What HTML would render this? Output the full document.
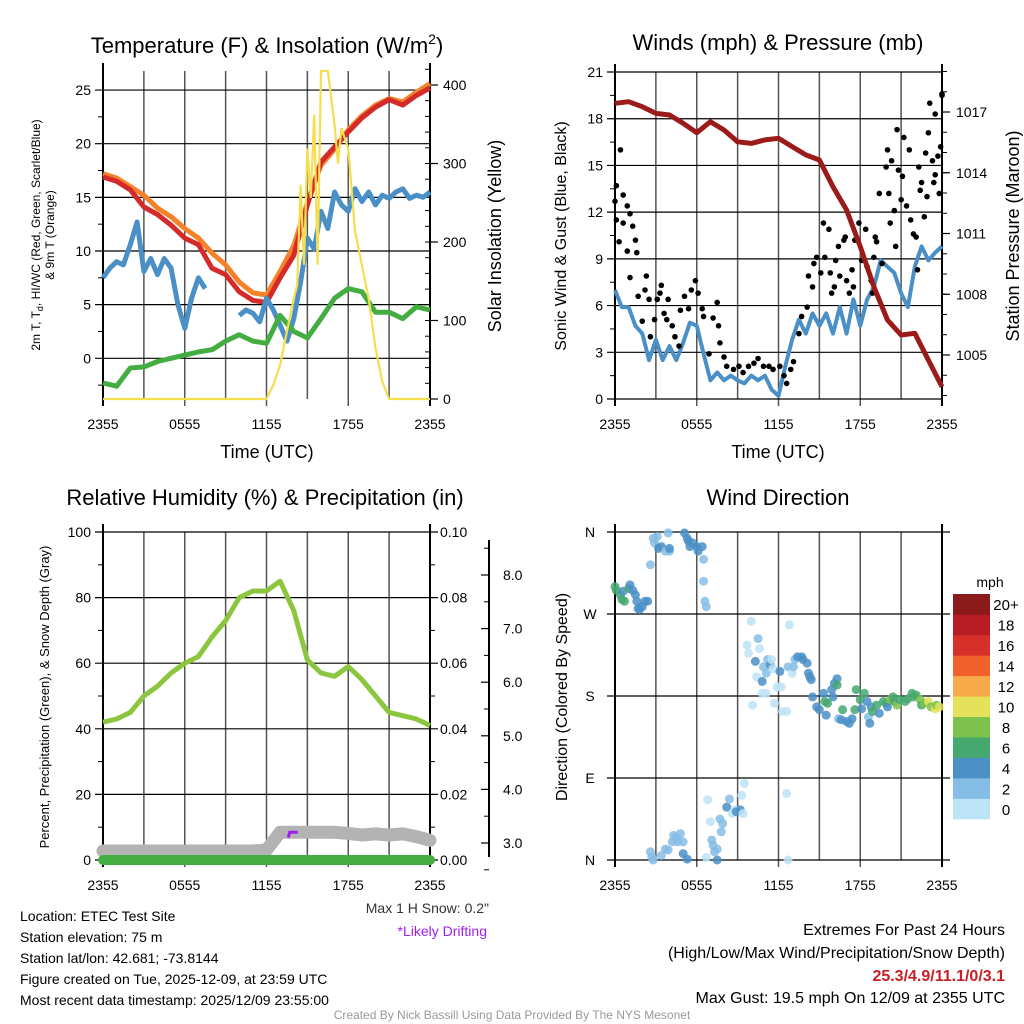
<!DOCTYPE html>
<html><head><meta charset="utf-8"><style>
html,body{margin:0;padding:0;background:#fff}
svg{display:block;font-family:"Liberation Sans",Arial,sans-serif}
</style></head><body>
<svg id="root" width="1024" height="1024" viewBox="0 0 1024 1024" xmlns="http://www.w3.org/2000/svg">
<rect width="1024" height="1024" fill="#fff"/>
<g id="static">
<text x="267" y="53" font-size="22" text-anchor="middle">Temperature (F) &amp; Insolation (W/m<tspan font-size="14" dy="-9">2</tspan><tspan dy="9">)</tspan></text>
<text x="778" y="50" font-size="22" text-anchor="middle">Winds (mph) &amp; Pressure (mb)</text>
<text x="265" y="505" font-size="22" text-anchor="middle">Relative Humidity (%) &amp; Precipitation (in)</text>
<text x="778" y="505" font-size="22" text-anchor="middle">Wind Direction</text>
<text x="267" y="458" font-size="18" text-anchor="middle">Time (UTC)</text>
<text x="778" y="458" font-size="18" text-anchor="middle">Time (UTC)</text>
<text transform="translate(40,235) rotate(-90)" font-size="12" text-anchor="middle">2m T, T<tspan font-size="9" dy="3">d</tspan><tspan dy="-3">, HI/WC (Red, Green, Scarlet/Blue)</tspan></text>
<text transform="translate(54,235) rotate(-90)" font-size="12" text-anchor="middle">&amp; 9m T (Orange)</text>
<text transform="translate(501,236) rotate(-90)" font-size="18" text-anchor="middle">Solar Insolation (Yellow)</text>
<text transform="translate(566,236) rotate(-90)" font-size="16" text-anchor="middle">Sonic Wind &amp; Gust (Blue, Black)</text>
<text transform="translate(1019,236) rotate(-90)" font-size="18" text-anchor="middle">Station Pressure (Maroon)</text>
<text transform="translate(49,697) rotate(-90)" font-size="13" text-anchor="middle">Percent, Precipitation (Green), &amp; Snow Depth (Gray)</text>
<text transform="translate(567,697) rotate(-90)" font-size="16" text-anchor="middle">Direction (Colored By Speed)</text>
<text x="489" y="913" font-size="14" text-anchor="end" fill="#333">Max 1 H Snow: 0.2"</text>
<text x="487" y="936" font-size="14" text-anchor="end" fill="#a020f0">*Likely Drifting</text>
<g font-size="14">
<text x="20" y="921">Location: ETEC Test Site</text>
<text x="20" y="942">Station elevation: 75 m</text>
<text x="20" y="963">Station lat/lon: 42.681; -73.8144</text>
<text x="20" y="984">Figure created on Tue, 2025-12-09, at 23:59 UTC</text>
<text x="20" y="1005">Most recent data timestamp: 2025/12/09 23:55:00</text>
</g>
<g font-size="16" text-anchor="end">
<text x="1005" y="935">Extremes For Past 24 Hours</text>
<text x="1005" y="958">(High/Low/Max Wind/Precipitation/Snow Depth)</text>
<text x="1005" y="981" fill="#c81e24" font-weight="bold">25.3/4.9/11.1/0/3.1</text>
<text x="1005" y="1003">Max Gust: 19.5 mph On 12/09 at 2355 UTC</text>
</g>
<text x="512" y="1019" font-size="12" text-anchor="middle" fill="#999">Created By Nick Bassill Using Data Provided By The NYS Mesonet</text>
<text x="990" y="587" font-size="14" text-anchor="middle">mph</text>
</g>
</svg>
<script>
// ---------- data ----------
const xTickHours = [0, 6, 12, 18, 24];
const xTickLabels = ["2355", "0555", "1155", "1755", "2355"];
const hourly = [0,1,2,3,4,5,6,7,8,9,10,11,12,13,14,15,16,17,18,19,20,21,22,23,24];
const halfHourly = [0,0.5,1,1.5,2,2.5,3,3.5,4,4.5,5,5.5,6,6.5,7,7.5,8,8.5,9,9.5,10,10.5,11,11.5,12,12.5,13,13.5,14,14.5,15,15.5,16,16.5,17,17.5,18,18.5,19,19.5,20,20.5,21,21.5,22,22.5,23,23.5,24];
// panel 1
const tempRed = [16.9,16.5,15.7,14.1,13.4,12.4,11.2,10.6,8.4,7.8,6.2,5.4,5.2,7.5,9.6,14.3,18.3,19.7,21.1,22.4,23.4,24.1,23.6,24.5,25.2];
const temp9mOrange = [17.2,16.8,16.0,15.2,14.0,13.2,12.1,11.2,9.8,8.7,7.1,6.1,5.9,8.1,10.5,14.5,18.0,19.5,21.3,22.6,23.6,24.2,23.9,24.8,25.6];
const dewGreen = [-2.3,-2.6,-0.9,-0.8,-0.3,0,0.3,0.6,0.8,1.6,2.2,1.6,1.4,4.0,2.5,1.9,3.7,5.6,6.5,6.2,4.3,4.3,3.7,4.8,4.5];
const windChillBlue = [7.5,8.4,9.0,8.7,10.6,12.7,8.1,9.3,7.8,9.3,8.4,5.0,2.8,5.6,7.5,6.5,null,null,5.9,null,4.0,4.5,4.2,3.4,5.6,4.5,3.1,1.6,3.7,7.1,11.2,10.2,13.7,12.1,15.5,14.3,13.7,15.8,14.6,15.5,14.3,15.2,14.9,15.5,15.8,14.9,15.2,15.0,15.5];
const solarHours = [0,12,12.5,13,13.5,14,14.25,14.5,14.75,15,15.25,15.5,15.75,16,16.5,17,17.25,17.5,18,18.5,19,19.5,20,20.5,21,24];
const solarValues = [0,0,18,43,86,128,145,273,171,319,256,362,171,420,420,349,300,345,319,213,171,128,65,22,0,0];
const tempTicks = [0,5,10,15,20,25];
const solarTicks = [0,100,200,300,400];
// panel 2
const windSonic = [7.0,5.9,5.9,4.7,4.2,2.5,3.8,2.5,3.4,2.5,3.6,4.9,4.7,2.9,1.2,1.7,1.2,1.5,1.2,1.0,1.5,1.2,1.5,0.6,0.2,2.1,3.8,5.1,4.2,5.5,4.7,5.5,4.2,5.9,4.2,6.4,4.7,6.4,7.2,8.9,8.5,8.1,6.8,5.9,8.5,9.8,8.9,9.4,9.8];
const pressure = [1017.43,1017.51,1017.26,1016.93,1016.85,1016.44,1015.98,1016.52,1016.11,1015.53,1015.45,1015.62,1015.70,1015.29,1014.88,1014.63,1013.31,1012.16,1010.35,1008.37,1006.73,1005.99,1006.07,1004.75,1003.43];
const gustHours = [0.0,0.1,0.4,0.1,0.3,0.6,0.9,1.1,0.6,1.3,0.9,1.5,1.6,1.1,1.7,2.2,2.3,2.0,2.5,2.6,2.9,3.1,3.3,3.4,3.6,3.8,3.9,4.2,4.4,4.7,4.8,5.1,5.4,5.6,5.9,6.1,6.4,6.5,6.9,7.2,7.5,7.6,7.7,8.0,8.2,8.7,9.1,9.4,9.8,10.2,10.5,10.9,11.3,11.6,12.1,12.4,12.6,12.9,13.1,13.5,13.7,14.1,14.2,14.5,14.6,14.8,15.1,15.3,15.4,15.7,15.8,15.9,16.1,16.2,16.4,16.5,16.8,16.9,17.0,17.2,17.4,17.5,17.6,17.9,18.1,18.4,18.5,18.8,18.9,19.0,19.1,19.2,19.4,19.6,19.9,20.0,20.1,20.2,20.3,20.5,20.6,20.7,20.8,21.0,21.1,21.2,21.4,21.6,21.7,21.9,22.1,22.2,22.3,22.4,22.5,22.7,22.8,22.9,23.0,23.1,23.3,23.4,23.5,23.5,23.7,23.8,23.9,24.0,24.0];
const gustValues = [12.7,13.7,16.0,11.5,10.1,13.1,12.4,11.9,11.3,11.1,9.5,10.2,9.4,7.8,6.6,7.0,7.9,5.0,6.4,4.0,5.1,6.4,6.8,7.3,5.5,5.1,6.4,4.7,4.0,3.4,5.7,6.6,5.8,7.0,7.6,6.8,5.8,5.3,2.9,5.2,6.2,4.7,3.6,2.7,2.1,1.9,2.1,1.7,2.1,2.3,2.6,2.1,2.1,1.9,2.1,1.5,1.0,1.9,2.4,4.2,5.3,5.9,7.9,7.2,8.7,9.1,8.1,11.3,9.1,10.9,8.1,6.8,7.2,8.9,9.8,7.9,10.2,10.4,7.6,6.8,8.3,7.2,10.2,11.3,8.9,10.9,8.5,7.6,6.8,9.1,10.4,10.1,13.2,8.7,14.9,16.0,13.2,11.3,15.3,12.1,9.8,17.3,14.7,12.8,14.3,16.8,12.4,16.0,11.5,10.6,10.4,8.3,14.9,13.4,13.9,11.7,15.8,13.0,17.1,19.0,15.3,13.9,18.3,14.4,15.6,13.2,16.2,19.5,19.6];
const windTicks = [0,3,6,9,12,15,18,21];
const pressureTicks = [1005,1008,1011,1014,1017];
// panel 3
const humidity = [42,43,45,50,53,57,60,62,68,73,80,82,82,85,76,61,57,56,59,55,50,45,44,43,41];
const precip = [0,0,0,0,0,0,0,0,0,0,0,0,0,0,0,0,0,0,0,0,0,0,0,0,0];
const snowDepth = [2.85,2.85,2.85,2.85,2.85,2.85,2.85,2.85,2.85,2.85,2.85,2.85,2.87,3.2,3.2,3.2,3.2,3.2,3.18,3.15,3.17,3.15,3.17,3.12,3.05,3.03];
const driftHours = [13.6,13.7,14.3];
const driftValues = [3.1,3.2,3.2];
const rhTicks = [0,20,40,60,80,100];
const precipTicks = ["0.00","0.02","0.04","0.06","0.08","0.10"];
const snowTicks = ["3.0","4.0","5.0","6.0","7.0","8.0"];
// panel 4
const dirHours = [0.0,0.1,0.4,0.5,0.7,0.6,1.0,1.1,1.3,1.5,1.6,1.7,1.8,2.0,2.2,2.4,2.6,2.8,2.9,3.1,3.2,3.4,3.7,3.9,4.0,4.0,5.1,5.3,5.4,5.5,5.7,6.0,6.1,6.4,6.5,6.5,6.6,6.7,
2.6,2.7,2.8,3.4,3.7,3.9,4.2,4.3,4.5,4.6,4.8,5.0,5.0,5.3,6.7,7.5,6.8,7.0,7.1,7.2,7.3,7.5,7.7,7.8,7.9,8.2,8.4,8.6,8.8,8.9,9.2,9.3,9.4,9.5,12.7,12.6,
9.7,9.8,10.0,10.1,10.3,10.4,10.5,10.6,10.8,10.9,11.1,11.2,11.4,11.5,11.6,10.8,11.1,11.7,11.9,12.1,12.2,12.3,12.6,12.7,12.8,13.0,13.1,13.2,13.4,13.7,13.8,14.1,14.2,14.3,14.4,14.5,14.8,15.0,15.3,15.4,15.5,15.6,15.9,16.0,16.1,16.3,16.3,16.4,16.6,16.7,17.0,17.2,17.4,17.6,17.7,18.0,18.1,18.3,18.5,18.6,18.7,18.8,18.9,19.2,19.4,19.7,19.9,20.0,20.2,20.4,20.5,20.7,20.9,21.3,21.5,21.8,21.9,22.1,22.4,22.5,22.7,23.0,23.2,23.5,23.6,23.8];
const dirDegrees = [300,296,291,286,284,295,298,302,296,291,284,276,275,278,284,284,324,353,348,355,342,344,339,359,339,342,359,353,350,344,348,344,339,344,330,306,284,278,
9,3,0,5,12,11,20,27,25,20,29,20,7,1,3,0,66,42,22,16,9,12,45,31,40,58,67,51,55,53,55,71,51,84,0,73,
236,227,262,170,218,201,243,232,196,212,205,220,214,220,210,183,183,172,190,207,190,163,163,212,258,205,212,220,223,223,220,216,205,201,198,179,168,165,183,174,159,172,187,179,194,199,192,155,154,165,152,150,155,165,187,176,166,183,174,157,150,168,163,170,161,174,172,168,176,179,174,170,176,174,177,183,179,181,176,170,172,174,168,166,170,168];
const dirSpeeds = [7,7,7,7,6,5,7,5,5,5,5,5,5,5,5,5,3,3,3,3,5,5,3,3,3,5,5,5,5,5,5,5,5,5,3,3,3,3,
3,3,3,3,3,3,3,3,3,3,3,3,5,5,1,5,1,1,3,3,3,3,3,3,3,5,3,1,1,5,5,1,1,1,1,1,
1,1,1,1,5,1,3,1,5,3,3,3,5,1,1,1,1,1,1,5,1,1,1,3,1,1,3,3,5,5,5,5,5,5,5,5,5,5,5,7,5,7,5,5,5,5,7,3,5,7,5,5,5,7,7,7,5,7,5,3,5,5,7,7,5,7,7,5,9,7,7,9,7,7,7,7,7,7,9,7,9,11,9,11,9,11];
const dirTicks = [0,90,180,270,360];
const dirTickLabels = ["N","E","S","W","N"];
const speedBins = ["0","2","4","6","8","10","12","14","16","18","20+"];
const speedColors = ["#bde3f7","#86bde6","#4a8fc6","#45a86f","#7cc24c","#e5e15a","#f8a94a","#f0612c","#d7302a","#b81d24","#8b1a1a"];

// ---------- helpers ----------
const NS = "http://www.w3.org/2000/svg";
const root = document.getElementById("root");
function mk(tag, attrs, parent) {
  const e = document.createElementNS(NS, tag);
  for (const k in attrs) e.setAttribute(k, attrs[k]);
  (parent || root).appendChild(e);
  return e;
}
function txt(x, y, s, size, anchor, parent) {
  const t = mk("text", {x: x, y: y, "font-size": size, "text-anchor": anchor}, parent);
  t.textContent = s;
  return t;
}
function pathFrom(xs, ys, fx, fy) {
  let d = "", pen = false;
  for (let i = 0; i < xs.length; i++) {
    if (ys[i] === null || ys[i] === undefined) { pen = false; continue; }
    d += (pen ? "L" : "M") + fx(xs[i]).toFixed(1) + "," + fy(ys[i]).toFixed(1);
    pen = true;
  }
  return d;
}
function frame(P, name) {
  const g = mk("g", {});
  
  
  for (let i = 0; i <= 8; i++) {
    const x = P.x0 + i * (P.x1 - P.x0) / 8;
    const l = mk("line", {x1: x, x2: x, y1: P.y0, y2: P.y1 + (i % 2 === 0 ? 7 : 0), stroke: "#555", "stroke-width": 1.5}, g);
    
    
  }
  return g;
}
function xAxisLabels(P, g) {
  for (let i = 0; i < xTickHours.length; i++) {
    const t = txt(P.hx(xTickHours[i]), P.y1 + 30, xTickLabels[i], 14, "middle", g);
    
    
  }
}
function hline(g, x0, x1, y) {
  const l = mk("line", {x1: x0, x2: x1, y1: y, y2: y, stroke: "#000", "stroke-width": 1.2}, g);
  
  
}
function border(P, g) {
  const r = mk("line", {x1: P.x0, x2: P.x0, y1: P.y0 - 8, y2: P.y1 + 7, stroke: "#000", "stroke-width": 2}, g);
  
  
  const r2 = mk("line", {x1: P.x1, x2: P.x1, y1: P.y0 - 8, y2: P.y1 + 7, stroke: "#000", "stroke-width": 2}, g);
  
  
}
function mkP(x0, x1, y0, y1) {
  return {x0: x0, x1: x1, y0: y0, y1: y1, hx: h => x0 + h * (x1 - x0) / 24};
}

// ---------- panel 1 ----------
const P1 = mkP(103, 430, 71, 399);
const yT = v => 358.3 - v * 10.73;
const yS = v => 399 - v * 0.785;
const g1 = frame(P1, "temperature-panel");
for (const v of tempTicks) {
  hline(g1, P1.x0 - 8, P1.x1, yT(v));
  const t = txt(P1.x0 - 12, yT(v) + 5, String(v), 14, "end", g1);
  
  
}
for (let v = -2.5; v <= 26; v += 5) mk("line", {x1: P1.x0 - 5, x2: P1.x0, y1: yT(v), y2: yT(v), stroke: "#000"}, g1);
for (const v of solarTicks) {
  mk("line", {x1: P1.x1, x2: P1.x1 + 8, y1: yS(v), y2: yS(v), stroke: "#000", "stroke-width": 1.2}, g1);
  const t = txt(P1.x1 + 13, yS(v) + 5, String(v), 14, "start", g1);
  
  
}
for (let v = 20; v <= 420; v += 20) mk("line", {x1: P1.x1 - 5, x2: P1.x1, y1: yS(v), y2: yS(v), stroke: "#000"}, g1);
xAxisLabels(P1, g1);
border(P1, g1);
const s1 = mk("path", {d: pathFrom(hourly, temp9mOrange, P1.hx, yT), fill: "none", stroke: "#f5822a", "stroke-width": 5, "stroke-linejoin": "round"});


const s2 = mk("path", {d: pathFrom(hourly, tempRed, P1.hx, yT), fill: "none", stroke: "#d42a2a", "stroke-width": 5, "stroke-linejoin": "round"});


const s3 = mk("path", {d: pathFrom(halfHourly, windChillBlue, P1.hx, yT), fill: "none", stroke: "#4a8fc6", "stroke-width": 5, "stroke-linejoin": "round"});


const s4 = mk("path", {d: pathFrom(hourly, dewGreen, P1.hx, yT), fill: "none", stroke: "#43ad42", "stroke-width": 5, "stroke-linejoin": "round"});


const s5 = mk("path", {d: pathFrom(solarHours, solarValues, P1.hx, v => Math.max(P1.y0, yS(v))), fill: "none", stroke: "#f5dd4f", "stroke-width": 2.2});



// ---------- panel 2 ----------
const P2 = mkP(615, 942, 72, 399);
const yW = v => 399 - v * 15.57;
const yP = p => 112 + (1017 - p) * 20.25;
const g2 = frame(P2, "winds-panel");
for (const v of windTicks) {
  hline(g2, P2.x0 - 8, P2.x1, yW(v));
  const t = txt(P2.x0 - 12, yW(v) + 5, String(v), 14, "end", g2);
  
  
}
for (let v = 1.5; v < 21; v += 3) mk("line", {x1: P2.x0 - 5, x2: P2.x0, y1: yW(v), y2: yW(v), stroke: "#000"}, g2);
for (const p of pressureTicks) {
  mk("line", {x1: P2.x1, x2: P2.x1 + 8, y1: yP(p), y2: yP(p), stroke: "#000", "stroke-width": 1.2}, g2);
  const t = txt(P2.x1 + 14, yP(p) + 5, String(p), 14, "start", g2);
  
  
}
for (let p = 1003; p <= 1019; p++) mk("line", {x1: P2.x1, x2: P2.x1 + 5, y1: yP(p), y2: yP(p), stroke: "#000"}, g2);
xAxisLabels(P2, g2);
border(P2, g2);
const w1 = mk("path", {d: pathFrom(halfHourly, windSonic, P2.hx, yW), fill: "none", stroke: "#4a8fc6", "stroke-width": 4, "stroke-linejoin": "round"});


const gg = mk("g", {fill: "#000"});


for (let i = 0; i < gustHours.length; i++) {
  const c = mk("circle", {cx: P2.hx(gustHours[i]), cy: yW(gustValues[i]), r: 2.8}, gg);
  
  
}
const w2 = mk("path", {d: pathFrom(hourly, pressure, P2.hx, yP), fill: "none", stroke: "#9b1b1b", "stroke-width": 5, "stroke-linejoin": "round"});



// ---------- panel 3 ----------
const P3 = mkP(103, 430, 532, 860);
const yR = v => 860 - v * 3.28;
const yPr = v => 860 - v * 3280;
const ySn = v => 843 - (v - 3) * 53.6;
const g3 = frame(P3, "humidity-panel");
for (let i = 0; i < rhTicks.length; i++) {
  const y = yR(rhTicks[i]);
  hline(g3, P3.x0 - 8, P3.x1 + 8, y);
  const t = txt(P3.x0 - 12, y + 5, String(rhTicks[i]), 14, "end", g3);
  
  
  const t2 = txt(P3.x1 + 10, y + 5, precipTicks[i], 14, "start", g3);
  
  
}
for (let v = 10; v < 100; v += 20) {
  mk("line", {x1: P3.x0 - 5, x2: P3.x0, y1: yR(v), y2: yR(v), stroke: "#000"}, g3);
  mk("line", {x1: P3.x1, x2: P3.x1 + 5, y1: yR(v), y2: yR(v), stroke: "#000"}, g3);
}
const snAx = mk("line", {x1: 489, x2: 489, y1: 540, y2: 857, stroke: "#000", "stroke-width": 2}, g3);


for (const s of snowTicks) {
  const v = parseFloat(s);
  mk("line", {x1: 481, x2: 489, y1: ySn(v), y2: ySn(v), stroke: "#000", "stroke-width": 1.2}, g3);
  mk("line", {x1: 484, x2: 489, y1: ySn(v + 0.5), y2: ySn(v + 0.5), stroke: "#000"}, g3);
  const t = txt(503, ySn(v) + 5, s, 14, "start", g3);
  
  
}
mk("line", {x1: 484, x2: 489, y1: ySn(2.5), y2: ySn(2.5), stroke: "#000"}, g3);
xAxisLabels(P3, g3);
border(P3, g3);
const hr = mk("path", {d: pathFrom(hourly, humidity, P3.hx, yR), fill: "none", stroke: "#8cc63f", "stroke-width": 5, "stroke-linejoin": "round"});


const sn = mk("path", {d: pathFrom(hourly, snowDepth, P3.hx, ySn), fill: "none", stroke: "#b3b3b3", "stroke-width": 13, "stroke-linejoin": "round", "stroke-linecap": "round"});


const pr = mk("path", {d: pathFrom(hourly, precip, P3.hx, yPr), fill: "none", stroke: "#43ad42", "stroke-width": 10, "stroke-linecap": "round"});


const dr = mk("path", {d: pathFrom(driftHours, driftValues, P3.hx, ySn), fill: "none", stroke: "#a020f0", "stroke-width": 3});



// ---------- panel 4 ----------
const P4 = mkP(615, 942, 532, 860);
const yD = d => 860 - d * 0.9111;
const g4 = frame(P4, "direction-panel");
for (let i = 0; i < dirTicks.length; i++) {
  const y = yD(dirTicks[i]);
  hline(g4, P4.x0 - 8, P4.x1 + 8, y);
  const t = txt(P4.x0 - 25, y + 5, dirTickLabels[i], 14, "middle", g4);
  
  
}
xAxisLabels(P4, g4);
border(P4, g4);
const gd = mk("g", {"fill-opacity": 0.85});


const nDir = Math.min(dirHours.length, dirDegrees.length, dirSpeeds.length);
for (let i = 0; i < nDir; i++) {
  const bin = Math.min(10, Math.floor(dirSpeeds[i] / 2));
  const c = mk("circle", {cx: P4.hx(dirHours[i]), cy: yD(dirDegrees[i]), r: 4.5, fill: speedColors[bin]}, gd);
  
  
}
const cb = mk("g", {});


const binH = (819 - 594) / speedBins.length;
for (let i = 0; i < speedBins.length; i++) {
  const y = 819 - (i + 1) * binH;
  const r = mk("rect", {x: 953, y: y, width: 37, height: binH + 0.3, fill: speedColors[i]}, cb);
  
  
  const t = txt(1006, y + binH / 2 + 6, speedBins[i], 15, "middle", cb);
  
  
}
</script>
</body></html>
